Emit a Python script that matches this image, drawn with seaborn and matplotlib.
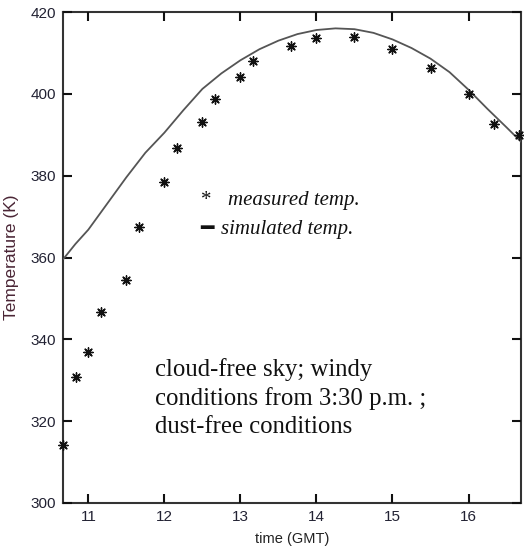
import matplotlib
matplotlib.use("Agg")
import matplotlib.pyplot as plt
import seaborn as sns
import pandas as pd

# measured temperatures
meas_time = [10.667, 10.833, 11.0, 11.167, 11.5, 11.667, 12.0, 12.167, 12.5, 12.667,
             13.0, 13.167, 13.667, 14.0, 14.5, 15.0, 15.5, 16.0, 16.333, 16.667]
meas_temp = [314.1, 330.7, 336.9, 346.7, 354.5, 367.5, 378.5, 386.7, 393.0, 398.7,
             404.2, 408.0, 411.7, 413.6, 413.9, 411.0, 406.2, 400.0, 392.6, 389.9]

# simulated temperatures
sim_time = [10.67, 10.83, 11.0, 11.25, 11.5, 11.75, 12.0, 12.25, 12.5, 12.75, 13.0,
            13.25, 13.5, 13.75, 14.0, 14.25, 14.5, 14.75, 15.0, 15.25, 15.5, 15.75,
            16.0, 16.25, 16.5, 16.69]
sim_temp = [359.6, 363.3, 366.8, 373.2, 379.6, 385.6, 390.5, 396.0, 401.2, 405.0, 408.2,
            410.9, 413.0, 414.6, 415.6, 416.0, 415.8, 414.9, 413.3, 411.2, 408.6, 405.3,
            401.0, 396.3, 391.8, 388.3]

x_ticks = [11, 12, 13, 14, 15, 16]
y_ticks = [300, 320, 340, 360, 380, 400, 420]

sns.set_style("ticks")
plt.rcParams.update({
    'font.family': ['Liberation Sans', 'DejaVu Sans'],
    'axes.edgecolor': '#333333', 'axes.linewidth': 1.5,
})

W, H = 524, 557
fig = plt.figure(figsize=(W / 100, H / 100), dpi=100)
ax = fig.add_axes([63 / W, 54 / H, 458 / W, 491 / H])

sim_df = pd.DataFrame({"time": sim_time, "temp": sim_temp})
meas_df = pd.DataFrame({"time": meas_time, "temp": meas_temp})

sns.lineplot(data=sim_df, x="time", y="temp", ax=ax, color="#555555", lw=1.3)
sns.scatterplot(data=meas_df, x="time", y="temp", ax=ax, marker=(8, 2, 0), s=45,
                color="#111111", linewidth=1.0, edgecolor="#111111", clip_on=False, zorder=5)

ax.set_xlim(10.667, 16.69)
ax.set_ylim(300, 420)
ax.set_xticks(x_ticks)
ax.set_yticks(y_ticks)
ax.minorticks_off()
ax.tick_params(axis="both", which="major", direction="in", length=6.5, width=1.5,
               color="#111111", bottom=True, top=True, left=True, right=True,
               labelbottom=True, labelleft=True, labeltop=False, labelright=False,
               labelsize=11, labelcolor="#222233", pad=5)
for s in ax.spines.values():
    s.set_visible(True)
    s.set_zorder(0.5)

ax.set_xlabel("time (GMT)", fontsize=10.5, color="#222222", labelpad=6)
ax.set_ylabel("Temperature (K)", fontsize=12.5, color="#4a2535", labelpad=8)

serif = ['Liberation Serif', 'DejaVu Serif']
def ptext(x, y, s, **kw):
    kw.setdefault("family", serif)
    fig.text(x / W, 1 - y / H, s, va="baseline", color="#111111", **kw)

ptext(201, 205, "*", fontsize=15)
ptext(228, 205, "measured temp.", fontsize=15, style="italic")
ptext(200, 235, "\u2501", fontsize=16, family=['DejaVu Sans'])
ptext(221, 234, "simulated temp.", fontsize=15, style="italic")

ptext(155, 376, "cloud-free sky; windy", fontsize=17.8)
ptext(155, 405, "conditions from 3:30 p.m. ;", fontsize=17.8)
ptext(155, 433, "dust-free conditions", fontsize=17.8)

fig.savefig("out.png", dpi=100)
